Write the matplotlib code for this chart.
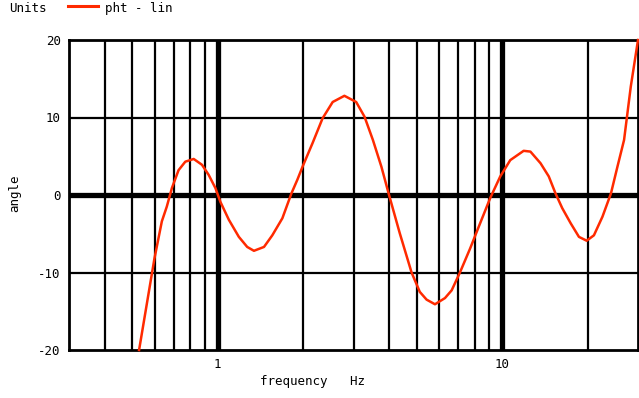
import matplotlib
matplotlib.use("Agg")
import matplotlib.pyplot as plt
from matplotlib.lines import Line2D

# frequency (Hz) and phase (angle)
freq = [0.529, 0.599, 0.636, 0.662, 0.69, 0.728, 0.769, 0.823, 0.88, 0.929,
        0.981, 1.022, 1.094, 1.186, 1.269, 1.34, 1.454, 1.555, 1.687, 1.815,
        1.906, 1.986, 2.154, 2.336, 2.535, 2.787, 3.066, 3.28, 3.51, 3.76,
        4.0, 4.36, 4.8, 5.13, 5.42, 5.8, 6.29, 6.64, 7.1, 7.71,
        8.36, 9.07, 9.84, 10.67, 11.89, 12.56, 13.63, 14.57, 15.39, 16.25,
        17.4, 18.6, 19.8, 21.0, 22.5, 24.1, 25.4, 26.8, 28.3, 30.0]
angle = [-20.0, -8.2, -3.4, -1.5, 0.9, 3.2, 4.3, 4.65, 3.9, 2.6,
         0.9, -0.9, -3.2, -5.4, -6.7, -7.2, -6.7, -5.2, -3.0, 0.2,
         2.0, 3.65, 6.7, 9.9, 12.0, 12.8, 12.0, 10.1, 7.1, 3.65,
         0.0, -4.9, -10.0, -12.5, -13.5, -14.1, -13.3, -12.3, -10.0, -6.9,
         -3.65, -0.4, 2.4, 4.5, 5.7, 5.6, 4.1, 2.4, 0.2, -1.7,
         -3.65, -5.4, -5.9, -5.2, -2.8, 0.2, 3.65, 7.1, 14.0, 20.0]

minor_x = [0.4, 0.5, 0.6, 0.7, 0.8, 0.9, 2, 3, 4, 5, 6, 7, 8, 9, 20]
major_x = [1, 10]
y_grid = [-10, 10]
y_ticks = [-20, -10, 0, 10, 20]

trace_color = "#ff2a00"
mono = "DejaVu Sans Mono"

fig = plt.figure(figsize=(6.39, 3.98), dpi=100)
ax = fig.add_axes([69 / 639, 48 / 398, 569 / 639, 310 / 398])
ax.set_xscale("log")
ax.set_xlim(0.3, 30)
ax.set_ylim(-20, 20)

for x in minor_x:
    ax.axvline(x, color="black", lw=1.6, zorder=1)
for x in major_x:
    ax.axvline(x, color="black", lw=3.8, zorder=1)
for y in y_grid:
    ax.axhline(y, color="black", lw=1.6, zorder=1)
ax.axhline(0, color="black", lw=3.8, zorder=1)

ax.plot(freq, angle, color=trace_color, lw=1.8, zorder=3, clip_on=False,
        solid_joinstyle="round")

for s in ax.spines.values():
    s.set_linewidth(2.0)
    s.set_color("black")

ax.set_xticks(major_x)
ax.set_xticklabels(["1", "10"])
ax.set_xticks([], minor=True)
ax.set_yticks(y_ticks)
ax.set_yticklabels([str(v) for v in y_ticks])
ax.tick_params(length=0, labelsize=9, pad=6)
for lab in ax.get_xticklabels() + ax.get_yticklabels():
    lab.set_family(mono)

fig.text(313 / 639, 1 - 382 / 398, "frequency   Hz", ha="center", va="center",
         fontsize=9, family=mono)
fig.text(15 / 639, 1 - 193 / 398, "angle", ha="center", va="center",
         rotation=90, fontsize=9, family=mono)

# legend line at top
fig.text(9 / 639, 1 - 12 / 398, "Units", ha="left", va="baseline",
         fontsize=9, family=mono)
fig.add_artist(Line2D([68 / 639, 98 / 639], [1 - 6 / 398, 1 - 6 / 398],
                      color=trace_color, lw=2.2, transform=fig.transFigure))
fig.text(105 / 639, 1 - 12 / 398, "pht - lin", ha="left", va="baseline",
         fontsize=9, family=mono)

fig.savefig("out.png", dpi=100)
